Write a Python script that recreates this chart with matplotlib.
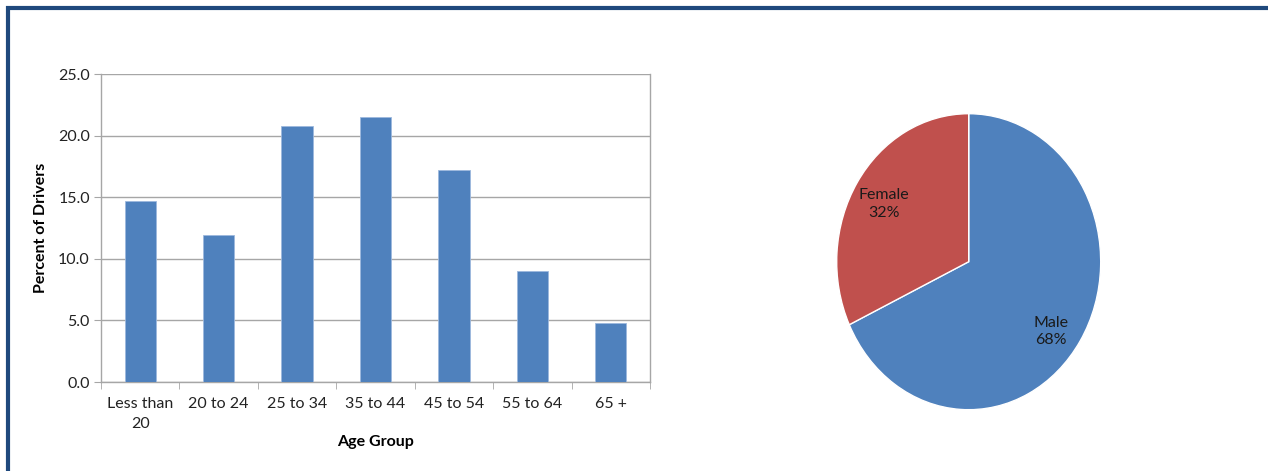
import matplotlib
matplotlib.use('Agg')
import matplotlib.pyplot as plt
import numpy as np

plt.rcParams['font.family'] = ['Lato', 'DejaVu Sans']

# --- дані ---
age_groups = ["Less than\n20", "20 to 24", "25 to 34", "35 to 44", "45 to 54", "55 to 64", "65 +"]
pct_drivers = [14.7, 11.9, 20.8, 21.5, 17.2, 9.0, 4.8]
y_ticks = [0.0, 5.0, 10.0, 15.0, 20.0, 25.0]

gender_labels = ["Male", "Female"]
gender_pct = [68, 32]

W, H = 1268, 471
fig = plt.figure(figsize=(W / 100, H / 100), dpi=100)
fig.patch.set_facecolor("white")

# --- рамка ---
border = "#1F497D"
fig.add_artist(plt.Line2D([7.5 / W, 7.5 / W], [0, 1 - 6 / H], transform=fig.transFigure,
                          color=border, linewidth=3, solid_capstyle="butt"))
fig.add_artist(plt.Line2D([6 / W, 1], [1 - 7.5 / H, 1 - 7.5 / H], transform=fig.transFigure,
                          color=border, linewidth=3, solid_capstyle="butt"))

# --- стовпчикова діаграма ---
grid_c = "#A6A6A6"
fs = 11.5
ax = fig.add_axes([101 / W, (H - 382) / H, 549 / W, 308 / H])
x = np.arange(len(age_groups))
ax.bar(x, pct_drivers, width=0.4, color="#4F81BD", edgecolor="#9DB9DE", linewidth=0.6, zorder=3)
ax.set_xlim(-0.5, len(age_groups) - 0.5)
ax.set_ylim(0, 25)
ax.set_yticks(y_ticks)
ax.set_yticklabels([f"{v:.1f}" for v in y_ticks], fontsize=fs, color="#222222")
ax.set_xticks(x)
ax.set_xticklabels(age_groups, fontsize=fs, linespacing=1.5, color="#222222")
ax.set_xticks(np.arange(-0.5, len(age_groups)), minor=True)
ax.tick_params(axis="x", which="major", length=0, pad=11)
ax.tick_params(axis="x", which="minor", length=5, color=grid_c, direction="out")
ax.tick_params(axis="y", length=5, color=grid_c, direction="out", pad=3)
ax.yaxis.grid(True, color=grid_c, linewidth=1, zorder=0)
ax.set_axisbelow(True)
for s in ax.spines.values():
    s.set_color(grid_c)
    s.set_linewidth(1)
ax.spines["top"].set_visible(False)
ax.set_ylabel("Percent of Drivers", fontsize=fs, fontweight="bold", labelpad=7)
ax.set_xlabel("Age Group", fontsize=fs, fontweight="bold", labelpad=3)

# --- кругова діаграма ---
rx, ry = 132, 148
cx, cy = 968.7, 261.7
pax = fig.add_axes([(cx - 1.25 * rx) / W, (H - cy - 1.25 * ry) / H, 2.5 * rx / W, 2.5 * ry / H])
wedges, _ = pax.pie(gender_pct, colors=["#4F81BD", "#C0504D"], startangle=90, counterclock=False,
                    wedgeprops=dict(edgecolor="white", linewidth=1))
pax.set_aspect("auto")
pax.set_xlim(-1.25, 1.25)
pax.set_ylim(-1.25, 1.25)
label_shift = [-5.5, 0.5]   # зсув підпису по куту, градуси
label_r = [0.79, 0.76]
for w, name, v, dth, r in zip(wedges, gender_labels, gender_pct, label_shift, label_r):
    th = np.deg2rad((w.theta1 + w.theta2) / 2 + dth)
    pax.text(r * np.cos(th), r * 0.97 * np.sin(th), f"{name}\n{v}%", ha="center", va="center",
             fontsize=fs, color="#1a1a1a", linespacing=1.3)

fig.savefig("out.png", dpi=100)
